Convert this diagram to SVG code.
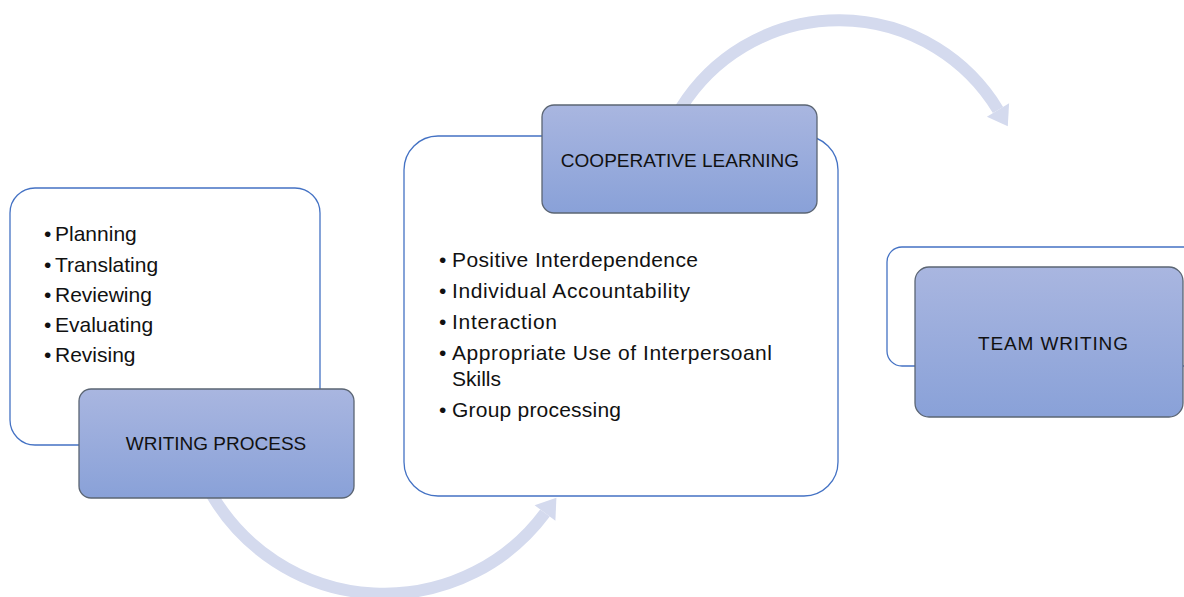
<svg xmlns="http://www.w3.org/2000/svg" width="1184" height="597" viewBox="0 0 1184 597">
<defs>
<linearGradient id="lbl" x1="0" y1="0" x2="0" y2="1">
<stop offset="0" stop-color="#A9B6E0"/>
<stop offset="1" stop-color="#89A1D8"/>
</linearGradient>
<style>
.wbox{fill:#FFFFFF;stroke:#4472C4;stroke-width:1.3}
.lbox{fill:url(#lbl);stroke:#5B6573;stroke-width:1.3}
.arc{fill:none;stroke:#D4DAEE;stroke-width:12}
.head{fill:#D4DAEE}
.t{font-family:"Liberation Sans",Arial,sans-serif;fill:#111111}
.b{font-size:21px}
.h{font-size:19px;text-anchor:middle}
</style>
</defs>
<rect width="1184" height="597" fill="#FFFFFF"/>
<g id="connectors">
<path class="arc" d="M 212 495 A 200 200 0 0 0 545 513"/>
<polygon class="head" points="556.4,497.8 555.4,520.8 534.6,505.2"/>
<path class="arc" d="M 681 108 A 186 186 0 0 1 998 110"/>
<polygon class="head" points="1007.8,126.3 1009.1,103.3 986.9,116.7"/>
</g>
<g id="writing-process">
<rect class="wbox" x="10" y="188" width="310" height="257" rx="25"/>
<text class="t b" x="44" y="241">•</text><text class="t b" x="55" y="241">Planning</text>
<text class="t b" x="44" y="272">•</text><text class="t b" x="55" y="272">Translating</text>
<text class="t b" x="44" y="302">•</text><text class="t b" x="55" y="302">Reviewing</text>
<text class="t b" x="44" y="332">•</text><text class="t b" x="55" y="332">Evaluating</text>
<text class="t b" x="44" y="362">•</text><text class="t b" x="55" y="362">Revising</text>
<rect class="lbox" x="79" y="389" width="275" height="109" rx="12"/>
<text class="t h" x="216" y="450">WRITING PROCESS</text>
</g>
<g id="cooperative-learning">
<rect class="wbox" x="404" y="136" width="434" height="360" rx="34"/>
<text class="t b" x="439" y="267">•</text><text class="t b" x="452" y="267" textLength="246" lengthAdjust="spacing">Positive Interdependence</text>
<text class="t b" x="439" y="298">•</text><text class="t b" x="452" y="298" textLength="238" lengthAdjust="spacing">Individual Accountability</text>
<text class="t b" x="439" y="329">•</text><text class="t b" x="452" y="329" textLength="105" lengthAdjust="spacing">Interaction</text>
<text class="t b" x="439" y="360">•</text><text class="t b" x="452" y="360" textLength="320" lengthAdjust="spacing">Appropriate Use of Interpersoanl</text>
<text class="t b" x="452" y="386">Skills</text>
<text class="t b" x="439" y="417">•</text><text class="t b" x="452" y="417" textLength="169" lengthAdjust="spacing">Group processing</text>
<rect class="lbox" x="542" y="105" width="275" height="108" rx="12"/>
<text class="t h" x="680" y="167">COOPERATIVE LEARNING</text>
</g>
<g id="team-writing">
<rect class="wbox" x="887" y="247" width="320" height="119" rx="15"/>
<rect class="lbox" x="915" y="267" width="268" height="150" rx="14"/>
<text class="t h" x="1053" y="350" textLength="150" lengthAdjust="spacing">TEAM WRITING</text>
</g>
</svg>
